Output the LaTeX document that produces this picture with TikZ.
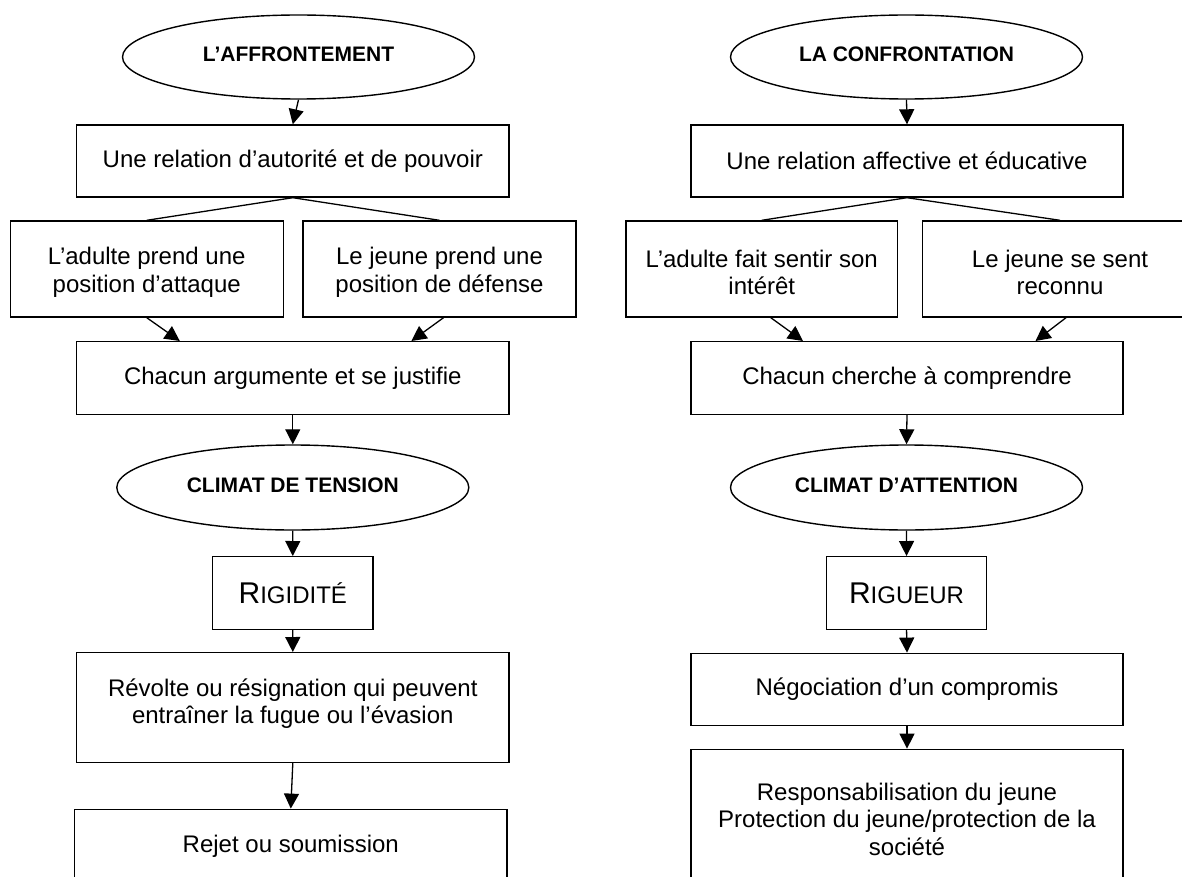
\documentclass[tikz,border=0pt]{standalone}
\usepackage{fontspec}
\setmainfont{Liberation Sans}
\usetikzlibrary{shapes.geometric,arrows.meta,calc}
\begin{document}
\begin{tikzpicture}[x=0.5pt,y=-0.5pt,
  box/.style={draw, line width=0.7pt, inner sep=0pt, align=center, font=\fontsize{12}{13.75}\selectfont},
  oval/.style={draw, ellipse, line width=0.7pt, inner sep=0pt, minimum width=176pt, minimum height=42pt, text depth=2.4pt, font=\fontsize{10.5}{12}\selectfont\bfseries},
  arr/.style={line width=0.65pt, -{Triangle[length=7.5pt,width=7.5pt]}},
  link/.style={line width=0.65pt}]
\useasboundingbox (0,0) rectangle (1182,877);
\clip (0,0) rectangle (1182,877);
% ---------- left column ----------
\node[oval] (e1) at (298.5,57) {L’AFFRONTEMENT};
\node[box, minimum width=216.25pt, minimum height=36pt] (b1) at (292.8,161) {Une relation d’autorité et de pouvoir};
\node[box, minimum width=136.5pt, minimum height=48pt] (ad1) at (146.75,269) {\rule{0pt}{12pt}L’adulte prend une\\position d’attaque};
\node[box, minimum width=136.5pt, minimum height=48pt] (je1) at (439.5,269) {\rule{0pt}{12pt}Le jeune prend une\\position de défense};
\node[box, minimum width=216.25pt, minimum height=36.3pt] (ch1) at (292.8,378) {Chacun argumente et se justifie};
\node[oval, minimum height=42.5pt] (e3) at (292.8,487.5) {CLIMAT DE TENSION};
\node[box, minimum width=80.35pt, minimum height=36.3pt] (rg1) at (292.75,593) {{\fontsize{15}{16}\selectfont R}IGIDITÉ};
\node[box, minimum width=216.25pt, minimum height=54.8pt] (rv1) at (292.8,707.5) {Révolte ou résignation qui peuvent\\entraîner la fugue ou l’évasion\rule[-6.5pt]{0pt}{0pt}};
\node[box, minimum width=216.2pt, minimum height=36.7pt] (rj1) at (290.8,846) {Rejet ou soumission};
\draw[arr] (e1.south) -- (b1.north);
\draw[link] (b1.south) -- (ad1.north);
\draw[link] (b1.south) -- (je1.north);
\draw[arr] (ad1.south) -- ($(ch1.north)+(-113,0)$);
\draw[arr] ($(je1.south)+(4,0)$) -- ($(ch1.north)+(118.6,0)$);
\draw[arr] (ch1.south) -- (e3.north);
\draw[arr] (e3.south) -- (rg1.north);
\draw[arr] (rg1.south) -- (rv1.north);
\draw[arr] (rv1.south) -- (rj1.north);
% ---------- right column ----------
\node[oval] (e2) at (906.5,57) {LA CONFRONTATION};
\node[box, minimum width=216.1pt, minimum height=36pt] (b2) at (907,161) {Une relation affective et éducative};
\node[box, minimum width=135.9pt, minimum height=48pt] (ad2) at (761.8,269) {\rule{0pt}{12pt}L’adulte fait sentir son\\intérêt};
\node[box, minimum width=137.8pt, minimum height=48pt] (je2) at (1060,269) {\rule{0pt}{12pt}Le jeune se sent\\reconnu};
\node[box, minimum width=216.1pt, minimum height=36.3pt] (ch2) at (907,378) {Chacun cherche à comprendre};
\node[oval, minimum height=42.5pt] (e4) at (906.5,487.5) {CLIMAT D’ATTENTION};
\node[box, minimum width=79.85pt, minimum height=36.3pt] (rg2) at (906.55,593) {{\fontsize{15}{16}\selectfont R}IGUEUR};
\node[box, minimum width=216.1pt, minimum height=36.2pt] (ng2) at (907,689.5) {Négociation d’un compromis};
\node[box, minimum width=216.1pt, minimum height=65.7pt] (rs2) at (907,815) {\rule{0pt}{13pt}Responsabilisation du jeune\\Protection du jeune/protection de la\\société};
\draw[arr] (e2.south) -- (b2.north);
\draw[link] (b2.south) -- (ad2.north);
\draw[link] (b2.south) -- (je2.north);
\draw[arr] ($(ad2.south)+(9,0)$) -- ($(ch2.north)+(-104,0)$);
\draw[arr] ($(je2.south)+(6,0)$) -- ($(ch2.north)+(128.5,0)$);
\draw[arr] (ch2.south) -- (e4.north);
\draw[arr] (e4.south) -- (rg2.north);
\draw[arr] (rg2.south) -- (ng2.north);
\draw[arr] (ng2.south) -- (rs2.north);
\end{tikzpicture}
\end{document}
